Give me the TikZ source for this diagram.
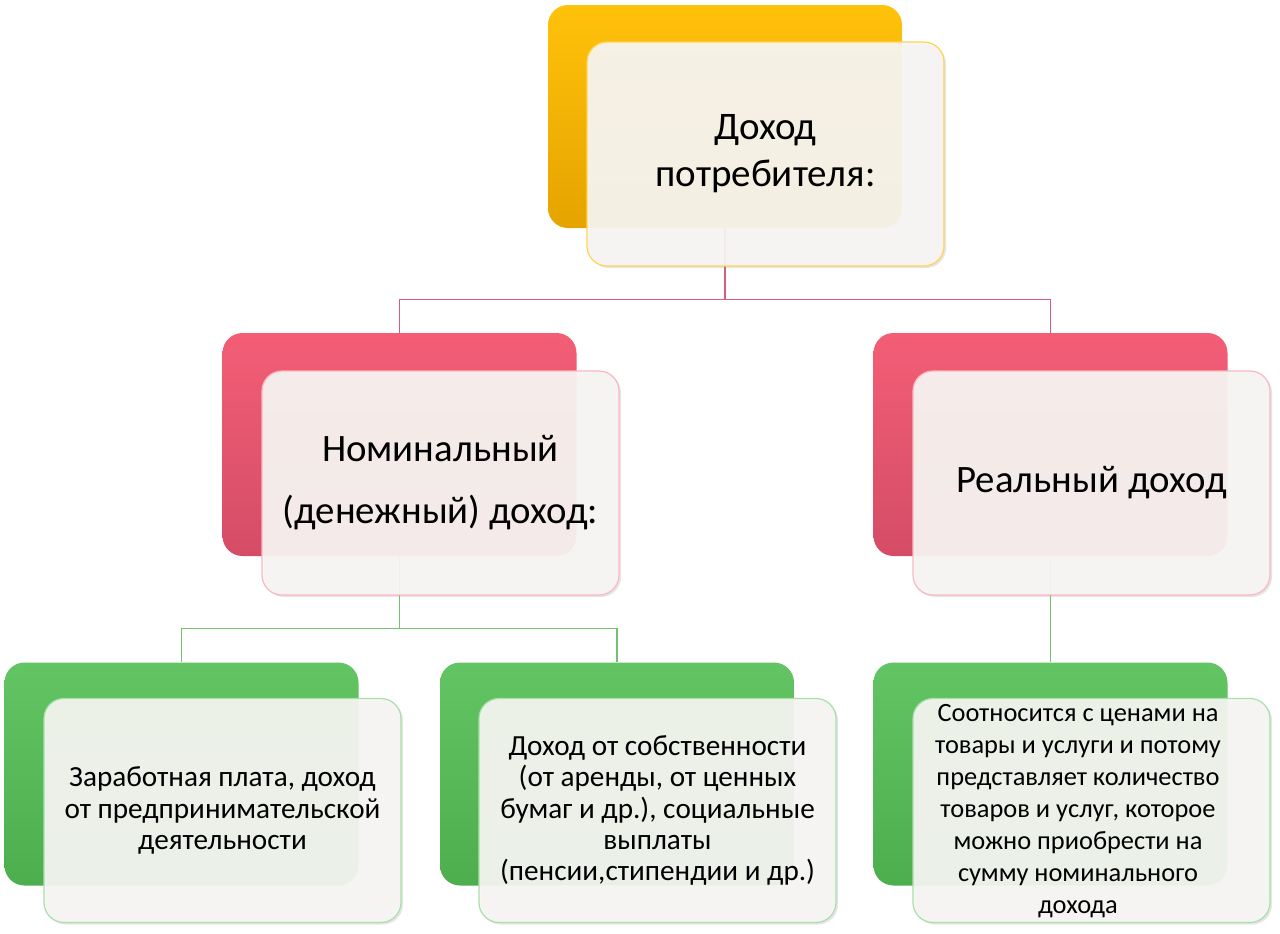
\documentclass[tikz,border=0pt]{standalone}
\usepackage{fontspec}
\setmainfont{Carlito}
\usetikzlibrary{positioning,shadows}
\definecolor{goldtop}{HTML}{FFC20A}
\definecolor{goldbot}{HTML}{E6A300}
\definecolor{rosetop}{HTML}{F35E76}
\definecolor{rosebot}{HTML}{D54C66}
\definecolor{leaftop}{HTML}{62C462}
\definecolor{leafbot}{HTML}{4DAE4D}
\definecolor{roseline}{HTML}{D2607A}
\definecolor{leafline}{HTML}{72C072}
\definecolor{cardfill}{HTML}{F7F6F3}

\tikzset{
 back/.style={rounded corners=10pt,minimum width=177pt,minimum height=111.5pt,inner sep=0pt},
 card/.style={rounded corners=10pt,minimum width=178.5pt,minimum height=112pt,inner sep=2pt,
   fill=cardfill,fill opacity=0.93,text opacity=1,line width=0.6pt,align=center,
   drop shadow={opacity=0.2,shadow xshift=1pt,shadow yshift=-1pt}},
 bigtxt/.style={font=\fontsize{19.5}{23.5}\selectfont},
 midtxt/.style={font=\fontsize{19.4}{31}\selectfont},
 smalltxt/.style={font=\fontsize{14.6}{15.7}\selectfont},
 tighttxt/.style={font=\fontsize{13.2}{16}\selectfont,align=center},
 rosewire/.style={draw=roseline,line width=0.8pt},
 leafwire/.style={draw=leafline,line width=0.8pt}
}

\begin{document}
\begin{tikzpicture}[x=0.5pt,y=-0.5pt]
 \useasboundingbox[fill=white](0,0)rectangle(1280,933);
 % back plates
 \node[back,top color=goldtop,bottom color=goldbot](b0)at(725,116.5){};
 \node[back,top color=rosetop,bottom color=rosebot](b1)at(399.5,444.5){};
 \node[back,top color=rosetop,bottom color=rosebot](b2)at(1050.5,444.5){};
 \node[back,top color=leaftop,bottom color=leafbot](b3)at(181.5,774){};
 \node[back,top color=leaftop,bottom color=leafbot](b4)at(617,774){};
 \node[back,top color=leaftop,bottom color=leafbot](b5)at(1050.5,774){};
 % connectors
 \draw[rosewire](b0.south)--++(0,71)-|(b1.north);
 \draw[rosewire](b0.south)--++(0,71)-|(b2.north);
 \draw[leafwire](b1.south)--++(0,72)-|(b3.north);
 \draw[leafwire](b1.south)--++(0,72)-|(b4.north);
 \draw[leafwire](b2.south)--(b5.north);
 % cards
 \node[card,draw=goldtop!70!white,bigtxt](c0)at(765.5,154){Доход\\потребителя:};
 \node[card,draw=rosetop!45!white,midtxt](c1)at(440.5,483){Номинальный\\(денежный) доход:};
 \node[card,draw=rosetop!45!white,midtxt](c2)at(1091.5,483){Реальный доход};
 \node[card,draw=leaftop!55!white,smalltxt](c3)at(222.5,810.5){Заработная плата, доход\\от предпринимательской\\деятельности};
 \node[card,draw=leaftop!55!white,smalltxt](c4)at(657.5,810.5){Доход от собственности\\(от аренды, от ценных\\бумаг и др.), социальные\\выплаты\\(пенсии,стипендии и др.)};
 \node[card,draw=leaftop!55!white](c5)at(1091.5,810.5){};
 \node[tighttxt](t5)at(1078,811.5){Соотносится с ценами на\\товары и услуги и потому\\представляет количество\\товаров и услуг, которое\\можно приобрести на\\сумму номинального\\дохода};
\end{tikzpicture}
\end{document}
